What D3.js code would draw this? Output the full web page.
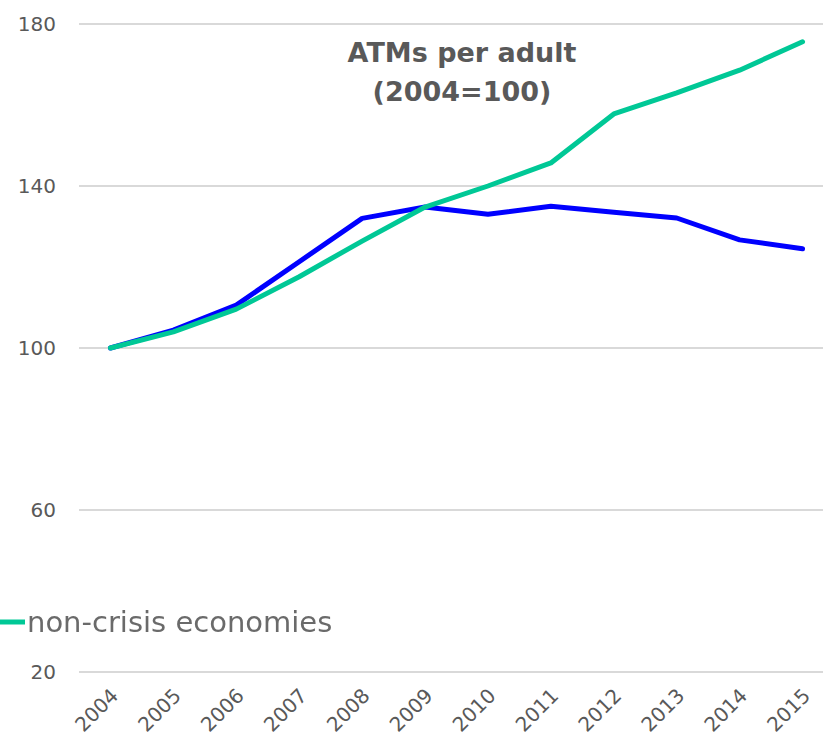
<!DOCTYPE html>
<html>
<head>
<meta charset="utf-8">
<script src="https://cdn.jsdelivr.net/npm/d3@7"></script>
<style>
  body { margin: 0; background: #fff; }
  svg { display: block; }
</style>
</head>
<body>
<svg id="chart" width="823" height="741"></svg>
<script>
// Years on the x axis
const years = ["2004","2005","2006","2007","2008","2009","2010","2011","2012","2013","2014","2015"];
// ATMs per adult, index 2004 = 100
const crisisEconomies    = [100, 104.4, 110.6, 121.3, 132, 134.8, 133, 135, 133.5, 132.1, 126.7, 124.5];
const nonCrisisEconomies = [100, 104, 109.6, 117.6, 126.4, 134.8, 140, 145.7, 157.8, 163, 168.6, 175.6];
// Y axis ticks
const yTicks = [20, 60, 100, 140, 180];

const svg = d3.select("#chart");
const font = "'DejaVu Sans', sans-serif";
const textColor = "#595959";

const plotLeft = 79, plotRight = 834, plotTop = 24, plotBottom = 672;

const x = d3.scalePoint().domain(years).range([plotLeft, plotRight]).padding(0.5);
const y = d3.scaleLinear().domain([20, 180]).range([plotBottom, plotTop]);

// Soft edge for the legend label
const defs = svg.append("defs");
defs.append("filter").attr("id", "soft")
  .append("feGaussianBlur").attr("stdDeviation", 0.6);

// Horizontal gridlines
svg.append("g").selectAll("line").data(yTicks).join("line")
  .attr("x1", plotLeft).attr("x2", 823)
  .attr("y1", d => y(d)).attr("y2", d => y(d))
  .attr("stroke", "#d9d9d9").attr("stroke-width", 2);

// Y tick labels
svg.append("g").selectAll("text").data(yTicks).join("text")
  .attr("x", 56).attr("y", d => y(d) + 7)
  .attr("text-anchor", "end")
  .attr("font-family", font).attr("font-size", 20)
  .attr("fill", textColor)
  .text(d => d);

// X tick labels, rotated
svg.append("g").selectAll("text").data(years).join("text")
  .attr("transform", d => `translate(${x(d) + 9},${697}) rotate(-45)`)
  .attr("text-anchor", "end")
  .attr("font-family", font).attr("font-size", 20)
  .attr("fill", textColor)
  .text(d => d);

const line = d3.line()
  .x((d, i) => x(years[i]))
  .y(d => y(d));

svg.append("path").datum(crisisEconomies)
  .attr("d", line).attr("fill", "none")
  .attr("stroke", "#0000ff").attr("stroke-width", 5)
  .attr("stroke-linecap", "round").attr("stroke-linejoin", "round");

svg.append("path").datum(nonCrisisEconomies)
  .attr("d", line).attr("fill", "none")
  .attr("stroke", "#00c896").attr("stroke-width", 5)
  .attr("stroke-linecap", "round").attr("stroke-linejoin", "round");

// Title
const title = svg.append("text")
  .attr("text-anchor", "middle")
  .attr("font-family", font).attr("font-size", 27).attr("font-weight", "bold")
  .attr("fill", textColor);
title.append("tspan").attr("x", 462).attr("y", 62).text("ATMs per adult");
title.append("tspan").attr("x", 462).attr("y", 101).text("(2004=100)");

// Legend entry
svg.append("line")
  .attr("x1", 0).attr("x2", 25).attr("y1", 622).attr("y2", 622)
  .attr("stroke", "#00c896").attr("stroke-width", 5);
svg.append("text")
  .attr("x", 27).attr("y", 632)
  .attr("font-family", font).attr("font-size", 29)
  .attr("fill", "#6b6b6b")
  .attr("filter", "url(#soft)")
  .text("non-crisis economies");
</script>
</body>
</html>
